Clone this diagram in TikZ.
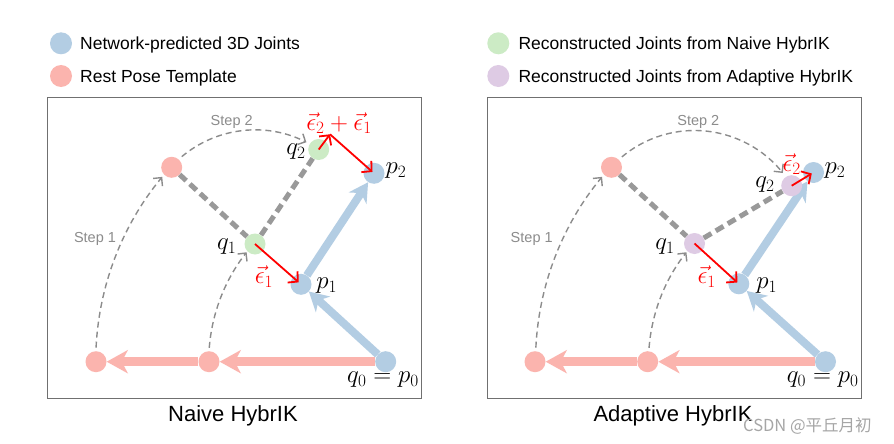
\documentclass[tikz,border=0pt]{standalone}
\usepackage[no-math]{fontspec}
\newfontfamily\arialf{Liberation Sans}
\newfontfamily\cjkf{Noto Sans CJK SC}
\usetikzlibrary{arrows.meta}
\definecolor{pblue}{HTML}{B3CDE3}
\definecolor{pred}{HTML}{FBB4AE}
\definecolor{pgreen}{HTML}{CCEBC5}
\definecolor{ppurple}{HTML}{DECBE4}
\definecolor{dgray}{HTML}{999999}
\definecolor{agray}{HTML}{8C8C8C}
\definecolor{fgray}{HTML}{707070}
\definecolor{ered}{HTML}{FF0000}
\definecolor{wmgray}{HTML}{A6A6A6}
\pgfdeclarelayer{bg}
\pgfdeclarelayer{paper}
\pgfsetlayers{paper,bg,main}
\begin{document}
\begin{tikzpicture}[x=1pt,y=1pt,
  joint/.style={circle,inner sep=0pt,minimum size=21pt,draw=none},
  bluearrow/.style={draw=pblue,line width=8pt,-{Stealth[length=19pt,width=21pt,inset=6pt]}},
  pinkarrow/.style={draw=pred,line width=9.5pt,-{Stealth[length=21pt,width=23pt,inset=6pt]}},
  boneline/.style={draw=dgray,line width=5pt,dash pattern=on 9pt off 5pt},
  steparc/.style={draw=agray,line width=1.4pt,dash pattern=on 6pt off 4pt,-{Straight Barb[length=6pt,width=12pt]}},
  errarrow/.style={draw=ered,line width=1.8pt,-{Straight Barb[length=7pt,width=15pt]}},
  steptext/.style={font=\arialf\fontsize{14.5}{17}\selectfont,text=agray,inner sep=0pt},
  mathlbl/.style={font=\fontsize{23}{26}\selectfont,inner sep=0pt},
  legtext/.style={font=\arialf\fontsize{17.5}{20}\selectfont,anchor=base west,inner sep=0pt},
  titletext/.style={font=\arialf\fontsize{22}{26}\selectfont,anchor=base,inner sep=0pt},
  framebox/.style={draw=fgray,line width=1pt}]
\useasboundingbox (0,0) rectangle (894,-444);
\begin{pgfonlayer}{paper}
\fill[white] (0,0) rectangle (894,-444);
\end{pgfonlayer}

% legend
\node[joint,minimum size=22pt,fill=pblue] (legb) at (61,-43.3) {};
\node[legtext] (legbt) at (80,-50) {Network-predicted 3D Joints};
\node[joint,minimum size=22pt,fill=pred] (legr) at (61,-76) {};
\node[legtext] (legrt) at (80,-82.3) {Rest Pose Template};
\node[joint,minimum size=22pt,fill=pgreen] (legg) at (498.3,-43.3) {};
\node[legtext] (leggt) at (518.3,-50) {Reconstructed Joints from Naive HybrIK};
\node[joint,minimum size=22pt,fill=ppurple] (legp) at (498.3,-76) {};
\node[legtext] (legpt) at (518.3,-82.3) {Reconstructed Joints from Adaptive HybrIK};

% frames
\draw[framebox] (47,-97) rectangle (421,-398);
\draw[framebox] (487,-97) rectangle (861,-398);

% ===== left panel nodes =====
\node[joint,fill=pred] (lL) at (96,-361.7) {};
\node[joint,fill=pred] (mL) at (209,-361.7) {};
\node[joint,fill=pblue] (p0L) at (385.7,-361.7) {};
\node[joint,fill=pred] (rL) at (171.7,-167.3) {};
\node[joint,fill=pgreen] (q1L) at (255,-244) {};
\node[joint,fill=pblue] (p1L) at (301,-284.3) {};
\node[joint,fill=pgreen] (q2L) at (318.7,-149.5) {};
\node[joint,fill=pblue] (p2L) at (374,-173.3) {};
\coordinate (cL) at (330,-134.3);

% ===== right panel nodes =====
\node[joint,fill=pred] (lR) at (535,-361.7) {};
\node[joint,fill=pred] (mR) at (647.7,-361.7) {};
\node[joint,fill=pblue] (p0R) at (825.5,-361.7) {};
\node[joint,fill=pred] (rR) at (611.5,-167.3) {};
\node[joint,fill=ppurple] (q1R) at (694.5,-243.5) {};
\node[joint,fill=pblue] (p1R) at (738.8,-283.8) {};
\node[joint,fill=pblue] (p2R) at (813.5,-172.5) {};
\node[joint,fill=ppurple] (q2R) at (791.7,-185.7) {};

\begin{pgfonlayer}{bg}
  % left
  \draw[boneline] (rL) -- (q1L);
  \draw[boneline] (q1L) -- (q2L);
  \draw[pinkarrow] (p0L) -- (mL);
  \draw[pinkarrow] (mL) -- (lL);
  \draw[bluearrow] (p0L) -- (p1L);
  \draw[bluearrow] (p1L) -- (p2L);
  \draw[steparc] ([shift={(177.2:290)}]p0L.center) arc[start angle=177.2,end angle=140.4,radius=290];
  \draw[steparc] ([shift={(175.5:177)}]p0L.center) arc[start angle=175.5,end angle=141.8,radius=177];
  \draw[steparc] ([shift={(130:114)}]q1L.center) arc[start angle=130,end angle=63.2,radius=114];
  % right
  \draw[boneline] (rR) -- (q1R);
  \draw[boneline] (q1R) -- (q2R);
  \draw[pinkarrow] (p0R) -- (mR);
  \draw[pinkarrow] (mR) -- (lR);
  \draw[bluearrow] (p0R) -- (p1R);
  \draw[bluearrow] (p1R) -- (p2R);
  \draw[steparc] ([shift={(177.2:290)}]p0R.center) arc[start angle=177.2,end angle=140.4,radius=290];
  \draw[steparc] ([shift={(175.5:177)}]p0R.center) arc[start angle=175.5,end angle=141.8,radius=177];
  \draw[steparc] ([shift={(130:113)}]q1R.center) arc[start angle=130,end angle=38.6,radius=113];
\end{pgfonlayer}

% error arrows
\draw[errarrow,shorten >=3pt] (q1L.center) -- (p1L.center);
\draw[errarrow] (q2L.center) -- (cL);
\draw[errarrow,shorten >=2pt] (cL) -- (p2L.center);
\draw[errarrow,shorten >=2pt] (q1R.center) -- (p1R.center);
\draw[errarrow,shorten >=2pt] (q2R.center) -- (p2R.center);

% left labels
\node[steptext] (s2L) at (231.7,-121.7) {Step 2};
\node[steptext] (s1L) at (95,-239) {Step 1};
\node[mathlbl] (tq2L) at (296,-152) {$q_2$};
\node[mathlbl,text=ered] (te21L) at (339,-123) {$\vec{\epsilon}_2+\vec{\epsilon}_1$};
\node[mathlbl] (tp2L) at (396,-171) {$p_2$};
\node[mathlbl] (tq1L) at (226.7,-246.7) {$q_1$};
\node[mathlbl,text=ered] (te1L) at (264,-276.7) {$\vec{\epsilon}_1$};
\node[mathlbl] (tp1L) at (326.7,-285.7) {$p_1$};
\node[mathlbl] (tp0L) at (383,-380) {$q_0=p_0$};

% right labels
\node[steptext] (s2R) at (698.3,-121.7) {Step 2};
\node[steptext] (s1R) at (531.7,-239) {Step 1};
\node[mathlbl,text=ered] (te2R) at (791.7,-164) {$\vec{\epsilon}_2$};
\node[mathlbl] (tq2R) at (765,-185) {$q_2$};
\node[mathlbl] (tp2R) at (835,-171) {$p_2$};
\node[mathlbl] (tq1R) at (665,-246.7) {$q_1$};
\node[mathlbl,text=ered] (te1R) at (706.7,-276.7) {$\vec{\epsilon}_1$};
\node[mathlbl] (tp1R) at (766.7,-285.7) {$p_1$};
\node[mathlbl] (tp0R) at (822.7,-380) {$q_0=p_0$};

% titles
\node[titletext] (tL) at (233,-421.7) {Naive HybrIK};
\node[titletext] (tR) at (673,-421.7) {Adaptive HybrIK};
\node[font=\cjkf\fontsize{16.5}{19}\selectfont,text=wmgray,anchor=base west,inner sep=0pt] (wm) at (743,-431.7) {CSDN @平丘月初};
\end{tikzpicture}
\end{document}
